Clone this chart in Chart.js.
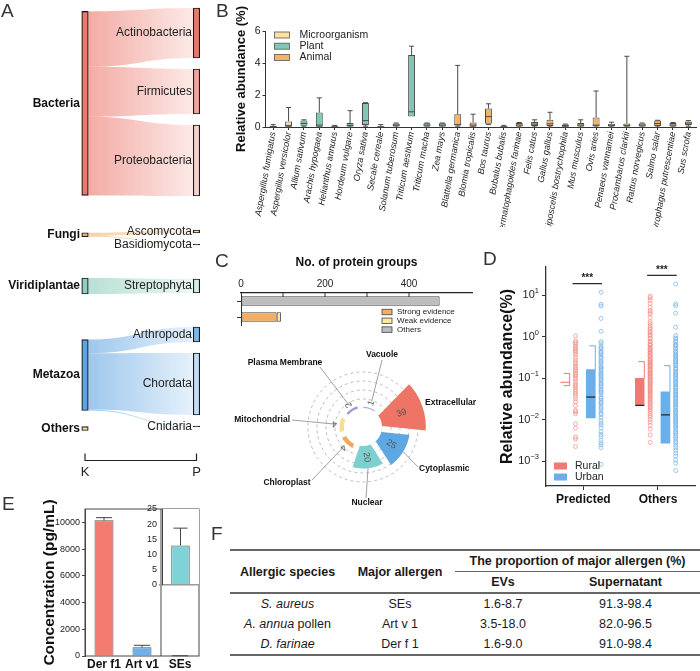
<!DOCTYPE html>
<html>
<head>
<meta charset="utf-8">
<script src="https://cdn.jsdelivr.net/npm/chart.js@4.4.0/dist/chart.umd.min.js"></script>
<style>
  body { margin: 0; background: #fff; font-family: 'Liberation Sans', Arial, sans-serif; }
  #fig { position: relative; width: 700px; height: 671px; overflow: hidden; background: #fff; }
  canvas, .lbl, #tF { position: absolute; }
  .lbl { font-size: 19px; line-height: 19px; color: #333; }
  #tF { left: 230px; top: 549px; width: 470px; border-collapse: collapse; table-layout: fixed; font-size: 12.5px; color: #1a1a1a; }
  #tF th, #tF td { padding: 0; height: 20px; line-height: 20px; text-align: center; white-space: nowrap; }
  #tF thead tr:first-child th { border-top: 2px solid #666; }
  #tF th.span { border-bottom: 1.5px solid #666; }
  #tF thead tr:last-child th, #tF th.rs { border-bottom: 2px solid #666; }
  #tF tbody tr:last-child td { border-bottom: 2px solid #666; }
</style>
</head>
<body>
<div id="fig">
  <canvas id="cA" width="230" height="480" style="left:0;top:0"></canvas>
  <canvas id="cB" width="470" height="230" style="left:230px;top:0"></canvas>
  <canvas id="cC1" width="250" height="80" style="left:230px;top:255px"></canvas>
  <canvas id="cC2" width="250" height="170" style="left:232px;top:345px"></canvas>
  <canvas id="cD" width="220" height="260" style="left:480px;top:250px"></canvas>
  <canvas id="cE" width="230" height="176" style="left:0;top:495px"></canvas>
  <canvas id="cE2" width="69" height="100" style="left:130px;top:495px"></canvas>
  <table id="tF">
    <colgroup><col style="width:115px"><col style="width:110px"><col style="width:96px"><col style="width:149px"></colgroup>
    <thead>
      <tr><th class="rs" rowspan="2">Allergic species</th><th class="rs" rowspan="2">Major allergen</th><th class="span" colspan="2">The proportion of major allergen (%)</th></tr>
      <tr><th>EVs</th><th>Supernatant</th></tr>
    </thead>
    <tbody id="tFbody"></tbody>
  </table>
  <div class="lbl" style="left:1px;top:1px">A</div>
  <div class="lbl" style="left:216px;top:1px">B</div>
  <div class="lbl" style="left:215px;top:251px">C</div>
  <div class="lbl" style="left:483px;top:249px">D</div>
  <div class="lbl" style="left:2px;top:494px">E</div>
  <div class="lbl" style="left:211px;top:524px">F</div>
</div>
<script>
Chart.defaults.font.family = "'Liberation Sans', Arial, sans-serif";
Chart.defaults.color = '#222';
Chart.defaults.animation = false;
Chart.defaults.events = [];
Chart.defaults.plugins.legend.display = false;
Chart.defaults.plugins.tooltip.enabled = false;
const FONT = "'Liberation Sans', Arial, sans-serif";

// ---------- A: kingdom -> phylum ----------
const kNodes = ['Bacteria', 'Fungi', 'Viridiplantae', 'Metazoa', 'Others'];
const kSize = [184, 4, 16, 71, 4];
const pNodes = ['Actinobacteria', 'Firmicutes', 'Proteobacteria', 'Ascomycota', 'Basidiomycota',
  'Streptophyta', 'Arthropoda', 'Chordata', 'Cnidaria'];
const pSize = [50, 45, 71, 3, 1, 14, 15, 62, 1];
const pParent = [0, 0, 0, 1, 1, 2, 3, 3, 3];

// ---------- B: box plot ----------
const bSpecies = ['Aspergillus fumigatus', 'Aspergillus versicolor', 'Allium sativum', 'Arachis hypogaea',
  'Helianthus annuus', 'Hordeum vulgare', 'Oryza sativa', 'Secale cereale', 'Solanum tuberosum',
  'Triticum aestivum', 'Triticum macha', 'Zea mays', 'Blattella germanica', 'Blomia tropicalis',
  'Bos taurus', 'Bubalus bubalis', 'Dermatophagoides farinae', 'Felis catus', 'Gallus gallus',
  'Liposcelis bostrychophila', 'Mus musculus', 'Ovis aries', 'Penaeus vannamei', 'Procambarus clarkii',
  'Rattus norvegicus', 'Salmo salar', 'Tyrophagus putrescentiae', 'Sus scrofa'];
const bGroup = [0, 0, 1, 1, 1, 1, 1, 1, 1, 1, 1, 1, 2, 2, 2, 2, 2, 2, 2, 2, 2, 2, 2, 2, 2, 2, 2, 2];
const bGroupNames = ['Microorganism', 'Plant', 'Animal'];
const bLo  = [0, 0, 0.05, 0, 0, 0, 0.05, 0, 0, 0.65, 0, 0, 0.05, 0, 0.15, 0, 0, 0, 0, 0, 0, 0, 0, 0, 0, 0, 0, 0.05];
const bQ1  = [0.01, 0.02, 0.08, 0.02, 0, 0.03, 0.12, 0, 0.04, 0.65, 0.03, 0.03, 0.1, 0.02, 0.2, 0, 0.03, 0.06, 0.06, 0.02, 0.03, 0.05, 0.03, 0.03, 0.03, 0.06, 0.03, 0.12];
const bMed = [0.03, 0.1, 0.22, 0.12, 0.02, 0.1, 0.4, 0.02, 0.12, 0.95, 0.12, 0.12, 0.15, 0.12, 0.65, 0.02, 0.12, 0.18, 0.2, 0.08, 0.12, 0.12, 0.1, 0.1, 0.12, 0.22, 0.12, 0.25];
const bQ3  = [0.06, 0.35, 0.4, 0.9, 0.05, 0.25, 1.5, 0.04, 0.22, 4.5, 0.23, 0.23, 0.8, 0.28, 1.15, 0.05, 0.25, 0.32, 0.45, 0.15, 0.25, 0.6, 0.2, 0.22, 0.22, 0.4, 0.25, 0.35];
const bHi  = [0.15, 1.22, 0.45, 1.82, 0.1, 1.02, 1.52, 0.15, 0.25, 5.05, 0.25, 0.25, 3.85, 0.8, 1.45, 0.1, 0.28, 0.45, 0.92, 0.18, 0.45, 2.25, 0.3, 4.42, 0.25, 0.42, 0.28, 0.4];

// ---------- C: protein groups / localisation ----------
const cRows = ['Others', 'Evidence'];
const cStrong = [null, 85];
const cWeak = [null, 10];
const cOthers = [473, null];
const cLoc = ['Vacuole', 'Extracellular', 'Cytoplasmic', 'Nuclear', 'Chloroplast', 'Mitochondrial', 'Plasma Membrane'];
const cPct = [1, 39, 25, 20, 4, 4, 2];

// ---------- D: rural vs urban (log10 of relative abundance) ----------
const dGroups = ['Predicted', 'Others'];
const dRuralPredLog = [0.02, -0.1, -0.14, -0.18, -0.23, -0.27, -0.3, -0.34, -0.38, -0.43, -0.5, -0.56, -0.62, -0.66,
  -0.71, -0.75, -0.79, -0.83, -0.88, -0.91, -0.95, -1.0, -1.03, -1.09, -1.15, -1.19, -1.23, -1.28, -1.33, -1.38,
  -1.44, -1.5, -1.57, -1.66, -1.78, -1.81, -1.86, -2.1, -2.21, -2.42, -2.47, -2.65];
const dUrbanPredLog = [1.07, 0.78, 0.74, 0.44, 0.13, -0.12, -0.16, -0.23, -0.27, -0.29, -0.35, -0.38, -0.41, -0.45,
  -0.5, -0.52, -0.58, -0.61, -0.64, -0.7, -0.73, -0.76, -0.8, -0.82, -0.87, -0.9, -0.93, -0.97, -1.01, -1.04, -1.07,
  -1.12, -1.14, -1.18, -1.21, -1.26, -1.29, -1.33, -1.35, -1.4, -1.46, -1.49, -1.53, -1.58, -1.6, -1.65, -1.7, -1.74,
  -1.79, -1.85, -1.88, -1.95, -2.02, -2.08, -2.13, -2.2, -2.29, -2.36, -2.41, -2.5, -2.56, -2.61, -2.68, -3.08];
const dRuralOthLog = [0.98, 0.94, 0.88, 0.8, 0.71, 0.63, 0.59, 0.55, 0.46, 0.36, 0.32, 0.26, 0.22, 0.18, 0.13, 0.1,
  0.05, 0.03, -0.03, -0.05, -0.11, -0.12, -0.17, -0.2, -0.21, -0.26, -0.28, -0.31, -0.33, -0.37, -0.39, -0.4, -0.44,
  -0.47, -0.48, -0.53, -0.55, -0.58, -0.6, -0.63, -0.66, -0.68, -0.71, -0.72, -0.76, -0.79, -0.8, -0.84, -0.87, -0.89,
  -0.91, -0.95, -0.97, -1.0, -1.03, -1.06, -1.08, -1.11, -1.14, -1.16, -1.19, -1.22, -1.25, -1.28, -1.3, -1.33, -1.36,
  -1.39, -1.42, -1.45, -1.48, -1.51, -1.55, -1.58, -1.61, -1.65, -1.69, -1.72, -1.76, -1.8, -1.85, -1.9, -1.94, -2.0,
  -2.06, -2.14, -2.23, -2.37, -2.55];
const dUrbanOthLog = [1.27, 0.79, 0.75, 0.57, 0.23, 0.03, -0.03, -0.05, -0.1, -0.13, -0.18, -0.21, -0.23, -0.28, -0.3,
  -0.35, -0.36, -0.41, -0.44, -0.47, -0.49, -0.54, -0.56, -0.6, -0.61, -0.66, -0.69, -0.7, -0.75, -0.78, -0.79, -0.84,
  -0.86, -0.9, -0.92, -0.95, -0.99, -1.0, -1.04, -1.08, -1.1, -1.13, -1.16, -1.2, -1.22, -1.25, -1.29, -1.31, -1.34,
  -1.38, -1.4, -1.43, -1.47, -1.49, -1.52, -1.56, -1.58, -1.62, -1.64, -1.68, -1.7, -1.73, -1.77, -1.8, -1.83, -1.85,
  -1.89, -1.92, -1.95, -1.98, -2.01, -2.05, -2.07, -2.11, -2.15, -2.18, -2.21, -2.26, -2.3, -2.33, -2.38, -2.42, -2.47,
  -2.52, -2.56, -2.62, -2.68, -2.74, -2.81, -2.88, -2.97, -3.05, -3.23];
const dRuralQ1 = [0.077, 0.022], dRuralMed = [0.079, 0.022], dRuralQ3 = [0.081, 0.1], dRuralHi = [0.13, 0.25], dRuralLo = [0.066, 0.022];
const dUrbanQ1 = [0.011, 0.0027], dUrbanMed = [0.035, 0.013], dUrbanQ3 = [0.16, 0.047], dUrbanHi = [0.6, 0.2], dUrbanLo = [0.011, 0.0027];

// ---------- E: concentration ----------
const eLabels = ['Der f1', 'Art v1', 'SEs'];
const eMean = [10150, 650, 13];
const eErr = [200, 150, 5.7];

// ---------- F: table ----------
const fSpeciesItalic = ['S. aureus', 'A. annua', 'D. farinae'];
const fSpeciesRest = ['', ' pollen', ''];
const fAllergen = ['SEs', 'Art v 1', 'Der f 1'];
const fEVs = ['1.6-8.7', '3.5-18.0', '1.6-9.0'];
const fSup = ['91.3-98.4', '82.0-96.5', '91.0-98.4'];

function line(ctx, x1, y1, x2, y2) { ctx.beginPath(); ctx.moveTo(x1, y1); ctx.lineTo(x2, y2); ctx.stroke(); }
function drawLegend(ctx, items, x0, y0, o) {
  ctx.save();
  ctx.font = o.size + 'px ' + FONT; ctx.textBaseline = 'middle'; ctx.textAlign = 'left';
  items.forEach((it, i) => {
    const yy = y0 + i * o.pitch;
    ctx.fillStyle = it.color; ctx.fillRect(x0, yy - o.bh / 2, o.bw, o.bh);
    if (o.stroke) { ctx.strokeStyle = o.stroke; ctx.lineWidth = 0.8; ctx.strokeRect(x0, yy - o.bh / 2, o.bw, o.bh); }
    ctx.fillStyle = '#222'; ctx.fillText(it.text, x0 + o.bw + o.gap, yy);
  });
  ctx.restore();
}

// ===== A =====
const kColors = ['#E8776C', '#F2B06A', '#90CFC0', '#5CA5E0', '#F6E08C'];
const kFlow = ['236,120,108', '242,176,106', '140,205,188', '98,165,225', '246,224,140'];
const pColors = ['#E8776C', '#F0A59C', '#F8D0CB', '#F8D8AA', '#333', '#D4EEE7', '#7DB8E8', '#C4DDF4', '#333'];
const pPos = [];
{
  let y = 8;
  pSize.forEach((v, i) => {
    if (i > 0) y += pParent[i] === pParent[i - 1] ? 11 : 34;
    pPos.push([y, y + v]); y += v;
  });
}
const kPos = kNodes.map((n, k) => {
  const kids = pParent.map((p, i) => p === k ? i : -1).filter(i => i >= 0);
  if (!kids.length) return null;
  const w = kids.reduce((s, i) => s + pSize[i], 0);
  const c = kids.reduce((s, i) => s + pSize[i] * (pPos[i][0] + pPos[i][1]) / 2, 0) / w;
  return [c - kSize[k] / 2, c + kSize[k] / 2];
});
kPos[4] = [kPos[3][1] + 16, kPos[3][1] + 16 + kSize[4]];

const sankeyDraw = {
  id: 'sankeyDraw',
  beforeDatasetsDraw(chart) {
    const { ctx, scales: { x, y } } = chart;
    const xl = x.getPixelForValue(0) + 3.2, xr = x.getPixelForValue(1) - 3.2, mx = (xl + xr) / 2;
    ctx.save();
    kNodes.forEach((_, k) => {
      const kids = pParent.map((p, i) => p === k ? i : -1).filter(i => i >= 0);
      const tot = kids.reduce((s, i) => s + pSize[i], 0);
      let cur = kPos[k][0];
      kids.forEach(i => {
        const h = kSize[k] * pSize[i] / tot;
        const a0 = y.getPixelForValue(cur), a1 = y.getPixelForValue(cur + h);
        const b0 = y.getPixelForValue(pPos[i][0]), b1 = y.getPixelForValue(pPos[i][1]);
        cur += h;
        const g = ctx.createLinearGradient(xl, 0, xr, 0);
        g.addColorStop(0, 'rgba(' + kFlow[k] + ',0.62)');
        g.addColorStop(1, 'rgba(' + kFlow[k] + ',0.16)');
        ctx.fillStyle = g;
        ctx.beginPath(); ctx.moveTo(xl, a0);
        ctx.bezierCurveTo(mx, a0, mx, b0, xr, b0); ctx.lineTo(xr, b1);
        ctx.bezierCurveTo(mx, b1, mx, a1, xl, a1); ctx.closePath(); ctx.fill();
      });
    });
    ctx.restore();
  },
  afterDatasetsDraw(chart) {
    const { ctx, chartArea: a, scales: { x, y } } = chart;
    ctx.save();
    ctx.textAlign = 'right'; ctx.textBaseline = 'middle'; ctx.fillStyle = '#111';
    ctx.font = 'bold 12px ' + FONT;
    kNodes.forEach((n, k) => ctx.fillText(n, x.getPixelForValue(0) - 5, y.getPixelForValue((kPos[k][0] + kPos[k][1]) / 2)));
    ctx.font = '12px ' + FONT; ctx.fillStyle = '#222';
    pNodes.forEach((n, i) => ctx.fillText(n, x.getPixelForValue(1) - 4.5, y.getPixelForValue((pPos[i][0] + pPos[i][1]) / 2)));
    const x0 = x.getPixelForValue(0), x1 = x.getPixelForValue(1), yb = a.bottom + 0.5;
    ctx.strokeStyle = '#222'; ctx.lineWidth = 1.2;
    ctx.beginPath(); ctx.moveTo(x0, yb - 7); ctx.lineTo(x0, yb); ctx.lineTo(x1, yb); ctx.lineTo(x1, yb - 7); ctx.stroke();
    ctx.textAlign = 'center'; ctx.font = '13px ' + FONT;
    ctx.fillText('K', x0, yb + 12); ctx.fillText('P', x1, yb + 12);
    ctx.restore();
  }
};
const nodeStyle = { barThickness: 6.5, borderColor: '#1a1a1a', borderWidth: 1.2, borderSkipped: false, grouped: false, clip: false };
new Chart(document.getElementById('cA'), {
  type: 'bar',
  data: {
    datasets: [
      Object.assign({ label: 'K', data: kPos.map(p => ({ x: 0, y: p })), backgroundColor: kColors }, nodeStyle),
      Object.assign({ label: 'P', data: pPos.map(p => ({ x: 1, y: p })), backgroundColor: pColors }, nodeStyle)
    ]
  },
  options: {
    responsive: false,
    layout: { padding: { left: 85, right: 33.5, top: 0, bottom: 20 } },
    scales: {
      x: { type: 'linear', min: 0, max: 1, offset: false, display: false },
      y: { type: 'linear', min: 0, max: 460, reverse: true, display: false }
    }
  },
  plugins: [sankeyDraw]
});

// ===== B =====
const bGroupColors = ['#FCE3A0', '#7FC8B6', '#F4B366'];
const boxDraw = {
  id: 'boxDraw',
  afterDatasetsDraw(chart) {
    const { ctx, chartArea: a, scales: { x, y } } = chart;
    ctx.save(); ctx.strokeStyle = '#4a4a4a'; ctx.lineWidth = 1;
    bSpecies.forEach((_, i) => {
      const el = chart.getDatasetMeta(bGroup[i]).data[i];
      const cx = x.getPixelForValue(i), hw = el.width / 2;
      if (bHi[i] > bQ3[i]) {
        const yh = y.getPixelForValue(bHi[i]);
        line(ctx, cx, y.getPixelForValue(bQ3[i]), cx, yh); line(ctx, cx - 2.5, yh, cx + 2.5, yh);
      }
      if (bLo[i] < bQ1[i]) {
        const yl = y.getPixelForValue(bLo[i]);
        line(ctx, cx, y.getPixelForValue(bQ1[i]), cx, yl); line(ctx, cx - 2.5, yl, cx + 2.5, yl);
      }
      const ym = y.getPixelForValue(bMed[i]);
      line(ctx, cx - hw, ym, cx + hw, ym);
    });
    ctx.restore();
    drawLegend(chart.ctx, bGroupNames.map((t, i) => ({ text: t, color: bGroupColors[i] })),
      a.left + 9, a.top + 4, { size: 10.5, pitch: 11.2, bw: 15, bh: 6, gap: 10, stroke: '#555' });
  }
};
new Chart(document.getElementById('cB'), {
  type: 'bar',
  data: {
    labels: bSpecies,
    datasets: bGroupNames.map((g, gi) => ({
      label: g,
      data: bSpecies.map((_, i) => bGroup[i] === gi ? [bQ1[i], bQ3[i]] : null),
      backgroundColor: bGroupColors[gi], borderColor: '#4a4a4a', borderWidth: 1, borderSkipped: false,
      grouped: false, barPercentage: 0.45, categoryPercentage: 1
    }))
  },
  options: {
    responsive: false,
    layout: { padding: { top: 31, right: 0, bottom: 3, left: 0 } },
    scales: {
      x: {
        grid: { drawOnChartArea: false, tickLength: 3, offset: false, color: '#333' },
        border: { color: '#333' },
        ticks: { font: { size: 9, style: 'italic' }, minRotation: 80, maxRotation: 80, autoSkip: false, padding: 1, color: '#222' },
        afterFit: s => { s.height = 100; }
      },
      y: {
        min: 0, max: 6,
        ticks: { stepSize: 2, font: { size: 10.5 }, padding: 2, color: '#222' },
        grid: { drawOnChartArea: false, tickLength: 3, color: '#333' },
        border: { color: '#333' },
        title: { display: true, text: 'Relative abundance (%)', font: { size: 13, weight: 'bold' }, color: '#111' },
        afterFit: s => { s.width = 35.5; }
      }
    }
  },
  plugins: [boxDraw]
});

// ===== C (bar) =====
const cColorsBar = ['#F2AE62', '#FCE7A3', '#BDBDBD'];
const cBarDecor = {
  id: 'cBarDecor',
  afterDraw(chart) {
    const { ctx, chartArea: a, scales: { x } } = chart;
    ctx.save(); ctx.strokeStyle = '#333'; ctx.lineWidth = 1;
    x.ticks.forEach(t => { if (t.value % 100 === 0 && t.value > 0) { const px = x.getPixelForValue(t.value); line(ctx, px, a.top, px, a.top + 4); } });
    ctx.restore();
    drawLegend(ctx, chart.data.datasets.map((d, i) => ({ text: d.label, color: cColorsBar[i] })),
      a.left + 141, a.top + 19, { size: 8, pitch: 8.8, bw: 10, bh: 5.5, gap: 5, stroke: '#444' });
  }
};
const cBarStyle = { borderColor: '#444', borderWidth: 1, borderSkipped: false, barPercentage: 0.6, categoryPercentage: 1 };
new Chart(document.getElementById('cC1'), {
  type: 'bar',
  data: {
    labels: cRows,
    datasets: [
      Object.assign({ label: 'Strong evidence', data: cStrong, backgroundColor: cColorsBar[0] }, cBarStyle),
      Object.assign({ label: 'Weak evidence', data: cWeak, backgroundColor: cColorsBar[1] }, cBarStyle),
      Object.assign({ label: 'Others', data: cOthers, backgroundColor: cColorsBar[2] }, cBarStyle)
    ]
  },
  options: {
    responsive: false, indexAxis: 'y',
    layout: { padding: { top: 0, right: 8, bottom: 10, left: 7 } },
    scales: {
      x: {
        position: 'top', stacked: true, min: 0, max: 550,
        ticks: { stepSize: 100, callback: v => v % 200 === 0 ? v : '', font: { size: 10 }, padding: 3, color: '#222' },
        grid: { drawOnChartArea: false, drawTicks: false },
        border: { color: '#222', width: 1.2 },
        title: { display: true, text: 'No. of protein groups', font: { size: 12, weight: 'bold' }, color: '#111', padding: { top: 0, bottom: 2 } },
        afterFit: s => { s.height = 38; }
      },
      y: {
        stacked: true,
        ticks: { display: false },
        grid: { drawOnChartArea: false, tickLength: 4, offset: false, color: '#333' },
        border: { color: '#333' },
        afterFit: s => { s.width = 4; }
      }
    }
  },
  plugins: [cBarDecor]
});

// ===== C (rose) =====
const cColors = ['#B2A6DC', '#EE7466', '#5FA7E3', '#7ECFCF', '#F0A95E', '#F7DE94', '#A394DA'];
const cLabelLayout = [
  { dx: 19, dy: -72, align: 'center', lx: 19, ly: -67 },
  { dx: 62, dy: -24, align: 'left', lx: null },
  { dx: 56, dy: 42, align: 'left', lx: 55, ly: 40 },
  { dx: 4, dy: 76, align: 'center', lx: 3, ly: 71 },
  { dx: -76, dy: 56, align: 'center', lx: -51, ly: 53 },
  { dx: -73, dy: -7, align: 'right', lx: -71, ly: -7 },
  { dx: -78, dy: -64, align: 'center', lx: -43, ly: -60 }
];
const roseDraw = {
  id: 'roseDraw',
  beforeDatasetsDraw(chart) {
    const { ctx } = chart; const r = chart.scales.r;
    const cx = r.xCenter, cy = r.yCenter, hole = r.getDistanceFromCenterForValue(0), g = 3;
    ctx.save();
    ctx.beginPath(); ctx.rect(0, 0, chart.width, chart.height);
    chart.getDatasetMeta(0).data.forEach(a => {
      const c = Math.cos(a.startAngle), s = Math.sin(a.startAngle), nx = -s * g, ny = c * g, R = 90;
      ctx.moveTo(cx + c * hole + nx, cy + s * hole + ny); ctx.lineTo(cx + c * R + nx, cy + s * R + ny);
      ctx.lineTo(cx + c * R - nx, cy + s * R - ny); ctx.lineTo(cx + c * hole - nx, cy + s * hole - ny); ctx.closePath();
    });
    ctx.moveTo(cx + hole, cy); ctx.arc(cx, cy, hole, 0, Math.PI * 2);
    ctx.clip('evenodd');
  },
  afterDatasetsDraw(chart) {
    const { ctx } = chart; ctx.restore();
    const r = chart.scales.r, cx = r.xCenter, cy = r.yCenter, hole = r.getDistanceFromCenterForValue(0);
    const arcs = chart.getDatasetMeta(0).data;
    ctx.save();
    arcs.forEach((a, i) => {
      const m = (a.startAngle + a.endAngle) / 2;
      const rr = a.outerRadius - hole > 14 ? (hole + a.outerRadius) / 2 : a.outerRadius + 5;
      ctx.save(); ctx.translate(cx + Math.cos(m) * rr, cy + Math.sin(m) * rr); ctx.rotate(m);
      ctx.font = '9px ' + FONT; ctx.fillStyle = '#555'; ctx.textAlign = 'center'; ctx.textBaseline = 'middle';
      ctx.fillText(String(cPct[i]), 0, 0); ctx.restore();
      const L = cLabelLayout[i];
      if (L.lx !== null) {
        const re = Math.max(a.outerRadius, 27);
        ctx.strokeStyle = '#888'; ctx.lineWidth = 0.8;
        line(ctx, cx + L.lx, cy + L.ly, cx + Math.cos(m) * re, cy + Math.sin(m) * re);
      }
      ctx.font = 'bold 8.5px ' + FONT; ctx.fillStyle = '#111'; ctx.textAlign = L.align; ctx.textBaseline = 'middle';
      ctx.fillText(cLoc[i], cx + L.dx, cy + L.dy);
    });
    ctx.restore();
  }
};
new Chart(document.getElementById('cC2'), {
  type: 'polarArea',
  data: { labels: cLoc, datasets: [{ data: cPct, backgroundColor: cColors, borderWidth: 0 }] },
  options: {
    responsive: false,
    layout: { padding: { left: 67, right: 55, top: 18, bottom: 24 } },
    scales: {
      r: {
        min: -17, max: 40, startAngle: -7,
        ticks: { display: false, stepSize: 8 },
        grid: { color: c => [8, 16, 24, 32].includes(c.tick.value) ? '#b5b5b5' : 'rgba(0,0,0,0)', lineWidth: 0.9 },
        border: { dash: [3, 3] }
      }
    }
  },
  plugins: [roseDraw]
});

// ===== D =====
const RB = -0.243, RD = -0.105, UB = 0.1, UD = 0.237;
const dRed = '#F07A72', dBlue = '#6CAEE8';
const dDots = (arrs, off) => arrs.flatMap((arr, g) => arr.map(v => ({ x: g + 1 + off, y: Math.pow(10, v) })));
const dDecor = {
  id: 'dDecor',
  afterDatasetsDraw(chart) {
    const { ctx, chartArea: a, scales: { x, y } } = chart;
    ctx.save();
    const boxes = [[dRuralQ1, dRuralMed, dRuralQ3, dRuralHi, dRuralLo, RB, dRed], [dUrbanQ1, dUrbanMed, dUrbanQ3, dUrbanHi, dUrbanLo, UB, dBlue]];
    boxes.forEach(([q1, md, q3, hi, lo, off, col]) => {
      dGroups.forEach((_, g) => {
        const cx = x.getPixelForValue(g + 1 + off), xr = cx + 4.5;
        ctx.strokeStyle = col; ctx.lineWidth = 1;
        const yh = y.getPixelForValue(hi[g]), yq3 = y.getPixelForValue(q3[g]);
        if (hi[g] > q3[g]) { line(ctx, xr, yq3, xr, yh); line(ctx, xr - 6, yh, xr, yh); }
        const yl = y.getPixelForValue(lo[g]), yq1 = y.getPixelForValue(q1[g]);
        if (lo[g] < q1[g]) { line(ctx, xr, yq1, xr, yl); line(ctx, xr - 6, yl, xr, yl); }
        if (yq1 - yq3 > 3) { ctx.strokeStyle = '#222'; ctx.lineWidth = 1.2; const ym = y.getPixelForValue(md[g]); line(ctx, cx - 4.5, ym, cx + 4.5, ym); }
      });
    });
    // significance
    const maxes = [[dRuralPredLog, dUrbanPredLog], [dRuralOthLog, dUrbanOthLog]].map(p => Math.max(...p[0], ...p[1]));
    ctx.strokeStyle = '#222'; ctx.lineWidth = 1.2; ctx.fillStyle = '#222';
    ctx.font = 'bold 10px ' + FONT; ctx.textAlign = 'center'; ctx.textBaseline = 'bottom';
    maxes.forEach((mx, g) => {
      const yy = y.getPixelForValue(Math.pow(10, mx + 0.21));
      const x0 = x.getPixelForValue(g + 1 + RD) - 3, x1 = x.getPixelForValue(g + 1 + UD) + 1;
      line(ctx, x0, yy, x1, yy); ctx.fillText('***', (x0 + x1) / 2, yy - 0.5);
    });
    // decade labels
    ctx.textBaseline = 'middle';
    y.ticks.forEach(t => {
      const py = y.getPixelForValue(t.value), e = String(Math.round(Math.log10(t.value))).replace('-', '\u2212');
      ctx.font = '7.5px ' + FONT; const ew = ctx.measureText(e).width;
      const xe = y.right - 7;
      ctx.textAlign = 'right'; ctx.fillText(e, xe, py - 4);
      ctx.font = '11px ' + FONT; ctx.fillText('10', xe - ew, py);
    });
    ctx.restore();
    drawLegend(ctx, [{ text: 'Rural', color: dRed }, { text: 'Urban', color: dBlue }], a.left + 8, a.bottom - 20,
      { size: 10.5, pitch: 11, bw: 13, bh: 7, gap: 8 });
  }
};
const dotStyle = { type: 'scatter', pointRadius: 2, pointBorderWidth: 0.7, pointBackgroundColor: 'rgba(0,0,0,0)' };
new Chart(document.getElementById('cD'), {
  type: 'scatter',
  data: {
    datasets: [
      { type: 'bar', label: 'Rural', data: dGroups.map((_, g) => ({ x: g + 1 + RB, y: [dRuralQ1[g], dRuralQ3[g]] })),
        backgroundColor: dRed, borderColor: dRed, borderWidth: 0.8, borderSkipped: false, barThickness: 9, grouped: false },
      { type: 'bar', label: 'Urban', data: dGroups.map((_, g) => ({ x: g + 1 + UB, y: [dUrbanQ1[g], dUrbanQ3[g]] })),
        backgroundColor: dBlue, borderWidth: 0, barThickness: 9, grouped: false },
      Object.assign({ label: 'Rural pts', data: dDots([dRuralPredLog, dRuralOthLog], RD), pointBorderColor: '#F28B84' }, dotStyle),
      Object.assign({ label: 'Urban pts', data: dDots([dUrbanPredLog, dUrbanOthLog], UD), pointBorderColor: '#74B3EA' }, dotStyle)
    ]
  },
  options: {
    responsive: false,
    layout: { padding: { top: 17, right: 2, bottom: 0, left: 14 } },
    scales: {
      x: {
        type: 'linear', min: 0.5, max: 2.5, offset: false,
        afterBuildTicks: s => { s.ticks = [{ value: 1 }, { value: 2 }]; },
        ticks: { callback: v => dGroups[v - 1], font: { size: 12, weight: 'bold' }, padding: 2, color: '#111' },
        grid: { drawOnChartArea: false, tickLength: 4, color: '#333', offset: false },
        border: { color: '#333', width: 1.3 },
        afterFit: s => { s.height = 24; }
      },
      y: {
        type: 'logarithmic', min: 2.5e-4, max: 48,
        afterBuildTicks: s => { s.ticks = [1e-3, 1e-2, 1e-1, 1, 10].map(v => ({ value: v })); },
        ticks: { callback: () => '' },
        grid: { drawOnChartArea: false, tickLength: 4, color: '#333' },
        border: { color: '#333', width: 1.3 },
        title: { display: true, text: 'Relative abundance(%)', font: { size: 16, weight: 'bold' }, color: '#111' },
        afterFit: s => { s.width = 52; }
      }
    }
  },
  plugins: [dDecor]
});

// ===== E =====
const eColors = ['#F47B6F', '#6DB1EA', '#7DD3D6'];
const eDecor = {
  id: 'eDecor',
  afterDatasetsDraw(chart) {
    const { ctx, chartArea: a, scales: { x, y } } = chart;
    ctx.save(); ctx.strokeStyle = '#444'; ctx.lineWidth = 1;
    ctx.strokeRect(a.left, a.top, a.right - a.left, a.bottom - a.top);
    const xd = (x.getPixelForValue(1) + x.getPixelForValue(2)) / 2;
    line(ctx, xd, a.top, xd, a.bottom);
    eMean.forEach((m, i) => {
      const cx = x.getPixelForValue(i), y0 = y.getPixelForValue(m), y1 = y.getPixelForValue(m + eErr[i]);
      line(ctx, cx, y0, cx, y1); line(ctx, cx - 8, y1, cx + 8, y1);
    });
    ctx.restore();
  }
};
new Chart(document.getElementById('cE'), {
  type: 'bar',
  data: { labels: eLabels, datasets: [{ data: eMean, backgroundColor: eColors, borderColor: '#555', borderWidth: 1, barPercentage: 0.5, categoryPercentage: 1 }] },
  options: {
    responsive: false,
    layout: { padding: { top: 14, right: 31, bottom: 0, left: 36 } },
    scales: {
      x: {
        grid: { display: false, drawTicks: false }, border: { display: false },
        ticks: { font: { size: 12, weight: 'bold' }, padding: 1, color: '#111', autoSkip: false, minRotation: 0, maxRotation: 0 },
        afterFit: s => { s.height = 15; }
      },
      y: {
        min: 0, max: 11000,
        ticks: { stepSize: 1000, callback: v => v % 2000 === 0 ? v : '', font: { size: 9 }, padding: 2, color: '#222' },
        grid: { drawOnChartArea: false, tickLength: 3, color: '#444' },
        border: { color: '#444' },
        title: { display: true, text: 'Concentration (pg/mL)', font: { size: 15.5, weight: 'bold' }, color: '#111' },
        afterFit: s => { s.width = 49; }
      }
    }
  },
  plugins: [eDecor]
});
const eInsetDecor = {
  id: 'eInsetDecor',
  beforeDraw(chart) {
    const { ctx, chartArea: a } = chart;
    ctx.save(); ctx.fillStyle = '#fff'; ctx.fillRect(a.left, a.top, a.right - a.left, a.bottom - a.top); ctx.restore();
  },
  afterDatasetsDraw(chart) {
    const { ctx, scales: { x, y } } = chart;
    ctx.save(); ctx.strokeStyle = '#444'; ctx.lineWidth = 1;
    const cx = x.getPixelForValue(0), y0 = y.getPixelForValue(eMean[2]), y1 = y.getPixelForValue(eMean[2] + eErr[2]);
    line(ctx, cx, y0, cx, y1); line(ctx, cx - 7, y1, cx + 7, y1);
    ctx.restore();
  }
};
new Chart(document.getElementById('cE2'), {
  type: 'bar',
  data: { labels: eLabels.slice(2), datasets: [{ data: eMean.slice(2), backgroundColor: eColors[2], borderColor: '#555', borderWidth: 1, barPercentage: 0.5, categoryPercentage: 1 }] },
  options: {
    responsive: false,
    layout: { padding: { top: 14, right: 0, bottom: 10, left: 0 } },
    scales: {
      x: { display: false },
      y: {
        min: 0, max: 25,
        ticks: { stepSize: 5, font: { size: 9 }, padding: 2, color: '#222' },
        grid: { tickLength: 3, color: c => c.tick && c.tick.value === 0 ? '#999' : 'rgba(0,0,0,0)', lineWidth: c => c.tick && c.tick.value === 0 ? 1.5 : 1 },
        border: { color: '#444' },
        afterFit: s => { s.width = 32; }
      }
    }
  },
  plugins: [eInsetDecor]
});

// ===== F =====
document.getElementById('tFbody').innerHTML = fSpeciesItalic.map((s, i) =>
  '<tr><td><i>' + s + '</i>' + fSpeciesRest[i] + '</td><td>' + fAllergen[i] + '</td><td>' + fEVs[i] + '</td><td>' + fSup[i] + '</td></tr>'
).join('');
</script>
</body>
</html>
